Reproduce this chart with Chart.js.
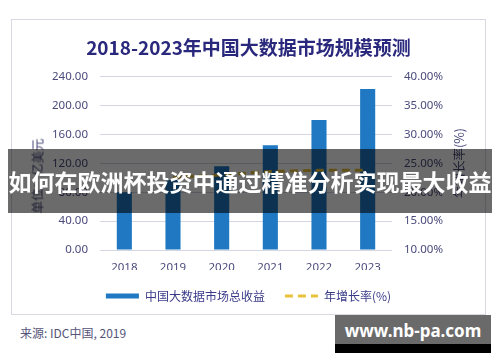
<!DOCTYPE html>
<html>
<head>
<meta charset="utf-8">
<script src="https://cdn.jsdelivr.net/npm/chart.js@4/dist/chart.umd.min.js"></script>
<style>
  html, body { margin: 0; padding: 0; background: #fff; }
  body { width: 500px; height: 362px; position: relative; overflow: hidden; font-family: "Noto Sans CJK SC", "Noto Sans", sans-serif; }
  #frame { position: absolute; left: 11px; top: 19px; width: 475px; height: 296px; border: 1px solid #d8d8e2; box-sizing: border-box; background: #fff; }
  .axis-title { position: absolute; font-size: 12.5px; color: #4a4a7c; white-space: nowrap; transform: translate(-50%, -50%) rotate(-90deg); }
  #source { position: absolute; left: 20px; top: 324px; font-size: 12px; color: #55557a; }
  #banner { position: absolute; left: 8px; top: 149px; width: 484px; height: 64px; background: rgba(0,0,0,0.58); color: #fff; font-weight: bold; font-size: 23px; line-height: 64px; text-align: center; white-space: nowrap; }
  #mark { position: absolute; left: 335px; top: 315px; width: 156px; height: 38px; background: linear-gradient(#6a6a6a 0, #6a6a6a 29px, #000 29px); color: #fff; font-family: "Noto Sans", sans-serif; font-weight: bold; font-size: 17px; line-height: 31px; text-align: center; white-space: nowrap; }
</style>
</head>
<body>
<div id="frame"><canvas id="chart"></canvas></div>
<div class="axis-title" style="left:37px; top:176px;">单位：亿美元</div>
<div class="axis-title" style="left:458px; top:163px;">年增长率(%)</div>
<div id="source">来源: IDC中国, 2019</div>
<div id="banner">如何在欧洲杯投资中通过精准分析实现最大收益</div>
<div id="mark">www.nb-pa.com</div>
<script>
const years = ['2018', '2019', '2020', '2021', '2022', '2023']
const revenue = [80, 97, 116, 145, 180, 223]
const growth = [null, 22.6, 23.0, 23.6, 23.8, 23.8]
const revenueLabel = '中国大数据市场总收益'
const growthLabel = '年增长率(%)'
const titleText = '2018-2023年中国大数据市场规模预测'

const tickColor = '#4a4a7c'
const tickFont = { family: '"Noto Sans", "Noto Sans CJK SC", sans-serif', size: 11.5 }
const lineDash = [8, 5]

const canvas = document.getElementById('chart')
canvas.width = 473
canvas.height = 294
canvas.style.width = '473px'
canvas.style.height = '294px'

const defaultLabels = Chart.defaults.plugins.legend.labels.generateLabels

new Chart(canvas, {
  type: 'bar',
  data: {
    labels: years,
    datasets: [
      {
        label: revenueLabel,
        data: revenue,
        backgroundColor: '#1f78c1',
        borderWidth: 0,
        barPercentage: 0.31,
        categoryPercentage: 1,
        yAxisID: 'y',
        pointStyle: 'rect',
        order: 1,
      },
      {
        label: growthLabel,
        type: 'line',
        data: growth,
        borderColor: '#e8c23a',
        backgroundColor: '#e8c23a',
        borderWidth: 3,
        borderDash: lineDash,
        pointRadius: 0,
        pointStyle: 'line',
        yAxisID: 'y1',
        order: 0,
      },
    ],
  },
  options: {
    responsive: false,
    animation: false,
    layout: { padding: { left: 0, right: 0, top: 0, bottom: 2 } },
    plugins: {
      title: {
        display: true,
        text: titleText,
        color: '#2a287c',
        font: { family: '"Noto Sans CJK SC", sans-serif', size: 19, weight: 'bold' },
        padding: { top: 16, bottom: 18 },
      },
      legend: {
        position: 'bottom',
        labels: {
          usePointStyle: true,
          pointStyleWidth: 33,
          boxHeight: 5,
          padding: 20,
          color: '#3a3a8a',
          font: { family: '"Noto Sans CJK SC", sans-serif', size: 12 },
          sort: (a, b) => a.datasetIndex - b.datasetIndex,
          generateLabels: (chart) => {
            const items = defaultLabels(chart)
            items.forEach((item) => {
              if (item.datasetIndex === 1) {
                item.lineDash = lineDash
                item.lineWidth = 3
              }
            })
            return items
          },
        },
      },
      tooltip: { enabled: false },
    },
    scales: {
      x: {
        grid: { display: false, drawTicks: false },
        border: { display: false },
        ticks: { color: tickColor, font: tickFont, padding: 11 },
        afterFit: (scale) => { scale.height = 20 },
      },
      y: {
        position: 'left',
        min: 0,
        max: 240,
        ticks: { stepSize: 40, color: tickColor, font: tickFont, padding: 12, callback: (v) => v.toFixed(2) },
        grid: { color: '#d5d6e3', lineWidth: 1, drawTicks: false },
        border: { display: false },
        afterFit: (scale) => { scale.width = 88 },
      },
      y1: {
        position: 'right',
        min: 10,
        max: 40,
        ticks: { stepSize: 5, color: tickColor, font: tickFont, padding: 12, callback: (v) => v.toFixed(2) + '%' },
        grid: { display: false, drawTicks: false },
        border: { display: false },
        afterFit: (scale) => { scale.width = 93 },
      },
    },
  },
})
</script>
</body>
</html>
